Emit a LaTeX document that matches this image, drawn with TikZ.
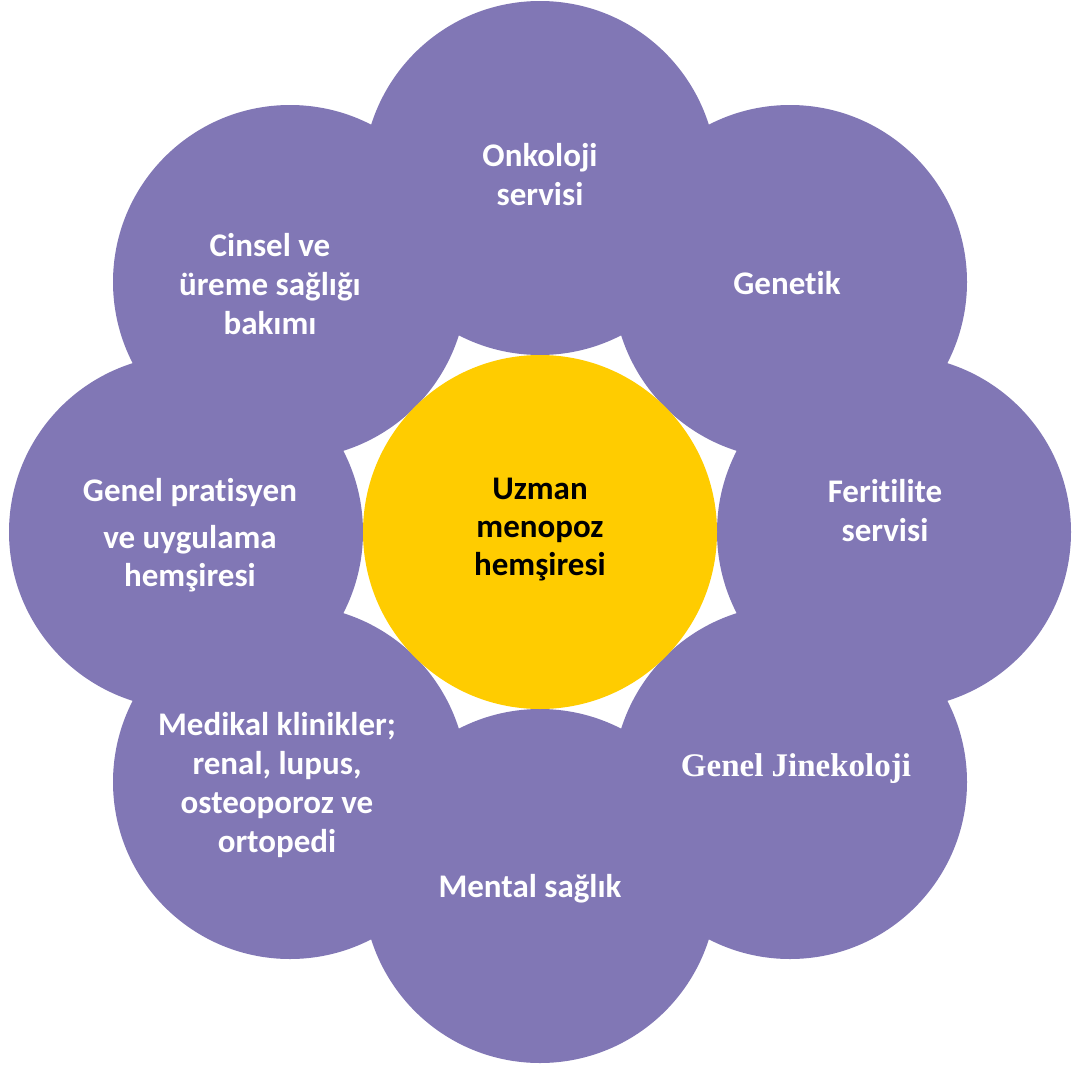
\documentclass[tikz,border=0pt]{standalone}
\usepackage{fontspec}
\setmainfont{Carlito}[Ligatures={NoCommon}]
\newfontfamily\timesfam{Liberation Serif}[Ligatures={NoCommon}]
\definecolor{petalcol}{RGB}{129,119,181}
\definecolor{corecol}{RGB}{255,204,0}
\begin{document}
\begin{tikzpicture}[x=1pt,y=-1pt,
  petalbox/.style={circle,fill=petalcol,minimum size=354pt,inner sep=0pt,outer sep=0pt},
  corebox/.style={circle,fill=corecol,minimum size=354pt,inner sep=0pt,outer sep=0pt},
  lbl/.style={align=center,text=white,inner sep=0pt,font=\fontsize{33}{39}\selectfont\bfseries},
  corelbl/.style={align=center,text=black,inner sep=0pt,font=\fontsize{33}{38}\selectfont\bfseries}]
\useasboundingbox (0,0) rectangle (1076,1068);
% petals
\node[petalbox] (p1) at (540,178) {};
\node[petalbox] (p2) at (790,282) {};
\node[petalbox] (p3) at (894,532) {};
\node[petalbox] (p4) at (790,782) {};
\node[petalbox] (p5) at (540,886) {};
\node[petalbox] (p6) at (290,782) {};
\node[petalbox] (p7) at (186,532) {};
\node[petalbox] (p8) at (290,282) {};
% center
\node[corebox] (c) at (540,532) {};
% labels
\node[lbl] (t1) at (540,175) {Onkoloji\\servisi};
\node[lbl] (t2) at (787,283) {Genetik};
\node[lbl] (t3) at (885,511) {Feritilite\\servisi};
\node[lbl,font=\fontsize{33}{38}\selectfont\timesfam\bfseries] (t4) at (796,769) {Genel Jinekoloji};
\node[lbl] (t5) at (530,889) {Mental sağlık};
\node[lbl] (t6) at (277,785) {Medikal klinikler;\\renal, lupus,\\osteoporoz ve\\ortopedi};
\node[lbl,font=\fontsize{33}{38}\selectfont\bfseries] (t7) at (190,535) {Genel pratisyen\\[9pt]ve uygulama\\hemşiresi};
\node[lbl] (t8) at (270,284) {Cinsel ve\\üreme sağlığı\\bakımı};
\node[corelbl] (tc) at (540,530) {Uzman\\menopoz\\hemşiresi};
\end{tikzpicture}
\end{document}
